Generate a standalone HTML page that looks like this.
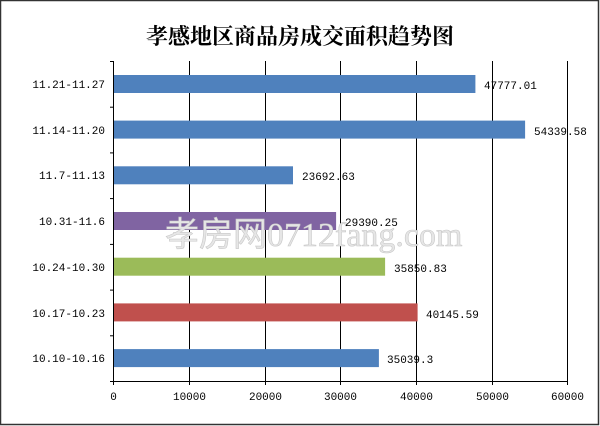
<!DOCTYPE html>
<html><head><meta charset="utf-8"><style>
body{margin:0;background:#fff}
svg{display:block}
text{font-family:"Liberation Mono","Noto Sans CJK SC",monospace;font-size:11px;fill:#000}
</style></head><body>
<svg width="600" height="426" xmlns="http://www.w3.org/2000/svg">
<rect x="0.5" y="0.5" width="598" height="424" fill="#fff" stroke="#333" stroke-width="1.5"/>
<text x="300" y="44" text-anchor="middle" style="font-family:'Noto Serif CJK SC','Noto Sans CJK SC',serif;font-size:22px;font-weight:bold">孝感地区商品房成交面积趋势图</text>
<g stroke="#000" stroke-width="1">
<line x1="189.5" y1="61" x2="189.5" y2="381"/>
<line x1="265.5" y1="61" x2="265.5" y2="381"/>
<line x1="340.5" y1="61" x2="340.5" y2="381"/>
<line x1="416.5" y1="61" x2="416.5" y2="381"/>
<line x1="492.5" y1="61" x2="492.5" y2="381"/>
<line x1="567.5" y1="61" x2="567.5" y2="381"/>
<line x1="113.5" y1="61" x2="113.5" y2="385"/>
<line x1="110" y1="381.5" x2="568" y2="381.5"/>
<line x1="110" y1="61.5" x2="113.5" y2="61.5"/>
<line x1="110" y1="107.2" x2="113.5" y2="107.2"/>
<line x1="110" y1="152.9" x2="113.5" y2="152.9"/>
<line x1="110" y1="198.6" x2="113.5" y2="198.6"/>
<line x1="110" y1="244.4" x2="113.5" y2="244.4"/>
<line x1="110" y1="290.1" x2="113.5" y2="290.1"/>
<line x1="110" y1="335.8" x2="113.5" y2="335.8"/>
<line x1="189.5" y1="381" x2="189.5" y2="385"/>
<line x1="265.5" y1="381" x2="265.5" y2="385"/>
<line x1="340.5" y1="381" x2="340.5" y2="385"/>
<line x1="416.5" y1="381" x2="416.5" y2="385"/>
<line x1="492.5" y1="381" x2="492.5" y2="385"/>
<line x1="567.5" y1="381" x2="567.5" y2="385"/>
</g>
<rect x="114" y="75" width="361.4" height="18" fill="#4F81BD"/>
<rect x="114" y="120.6" width="411.1" height="18" fill="#4F81BD"/>
<rect x="114" y="166.3" width="179" height="18" fill="#4F81BD"/>
<rect x="114" y="212" width="222.1" height="18" fill="#8064A2"/>
<rect x="114" y="257.7" width="271.1" height="18" fill="#9BBB59"/>
<rect x="114" y="303.4" width="303.6" height="18" fill="#C0504D"/>
<rect x="114" y="349.1" width="264.9" height="18" fill="#4F81BD"/>
<text x="165" y="246" style="font-family:'Liberation Serif',serif;font-size:34px;fill:#e6e6e6;stroke:#c8c8c8;stroke-width:0.6">孝房网0712fang.com</text>
<g text-anchor="end">
<text x="105" y="88">11.21-11.27</text>
<text x="105" y="134">11.14-11.20</text>
<text x="105" y="179">11.7-11.13</text>
<text x="105" y="225">10.31-11.6</text>
<text x="105" y="271">10.24-10.30</text>
<text x="105" y="317">10.17-10.23</text>
<text x="105" y="362">10.10-10.16</text>
</g>
<text x="484" y="89">47777.01</text>
<text x="534" y="135">54339.58</text>
<text x="302" y="180">23692.63</text>
<text x="345" y="226">29390.25</text>
<text x="394" y="272">35850.83</text>
<text x="426" y="318">40145.59</text>
<text x="387" y="363">35039.3</text>
<g text-anchor="middle">
<text x="113.5" y="400">0</text>
<text x="189.5" y="400">10000</text>
<text x="265.5" y="400">20000</text>
<text x="340.5" y="400">30000</text>
<text x="416.5" y="400">40000</text>
<text x="492.5" y="400">50000</text>
<text x="567.5" y="400">60000</text>
</g>
</svg>
</body></html>
